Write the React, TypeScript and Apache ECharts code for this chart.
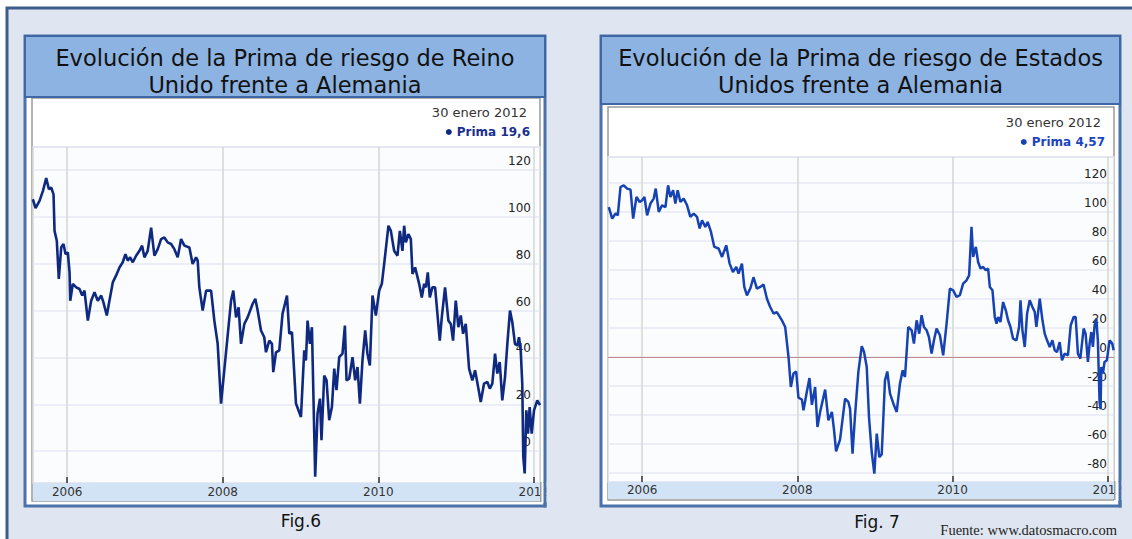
import { useEffect, useRef } from 'react';
import * as echarts from 'echarts';

// ---------- data ----------
const yearTicks = [2006, 2008, 2010, 2012];

const ukYears = [
  2005.558, 2005.593, 2005.644, 2005.687, 2005.73, 2005.764, 2005.794, 2005.824, 2005.837, 2005.866,
  2005.892, 2005.923, 2005.952, 2005.978, 2006.008, 2006.03, 2006.039, 2006.072, 2006.116, 2006.158,
  2006.193, 2006.222, 2006.265, 2006.308, 2006.351, 2006.393, 2006.437, 2006.466, 2006.509, 2006.543,
  2006.586, 2006.629, 2006.672, 2006.714, 2006.749, 2006.778, 2006.809, 2006.843, 2006.886, 2006.929,
  2006.963, 2006.993, 2007.035, 2007.079, 2007.121, 2007.164, 2007.207, 2007.249, 2007.292, 2007.336,
  2007.378, 2007.421, 2007.464, 2007.507, 2007.571, 2007.613, 2007.657, 2007.678, 2007.699, 2007.742,
  2007.786, 2007.85, 2007.892, 2007.935, 2007.978, 2008.042, 2008.107, 2008.136, 2008.171, 2008.204,
  2008.235, 2008.278, 2008.32, 2008.384, 2008.419, 2008.449, 2008.492, 2008.534, 2008.556, 2008.599,
  2008.633, 2008.65, 2008.685, 2008.727, 2008.769, 2008.826, 2008.856, 2008.89, 2008.942, 2009.006,
  2009.048, 2009.07, 2009.091, 2009.121, 2009.147, 2009.189, 2009.219, 2009.25, 2009.27, 2009.305,
  2009.335, 2009.369, 2009.404, 2009.434, 2009.463, 2009.498, 2009.54, 2009.571, 2009.592, 2009.626,
  2009.669, 2009.703, 2009.733, 2009.764, 2009.797, 2009.832, 2009.861, 2009.892, 2009.926, 2009.969,
  2010.012, 2010.046, 2010.076, 2010.131, 2010.162, 2010.204, 2010.247, 2010.278, 2010.311, 2010.333,
  2010.355, 2010.388, 2010.419, 2010.44, 2010.474, 2010.526, 2010.56, 2010.59, 2010.612, 2010.637,
  2010.663, 2010.696, 2010.731, 2010.791, 2010.817, 2010.859, 2010.902, 2010.933, 2010.962, 2010.997,
  2011.03, 2011.061, 2011.091, 2011.125, 2011.168, 2011.21, 2011.245, 2011.296, 2011.318, 2011.36,
  2011.403, 2011.434, 2011.467, 2011.502, 2011.531, 2011.562, 2011.595, 2011.63, 2011.66, 2011.694,
  2011.724, 2011.758, 2011.788, 2011.81, 2011.832, 2011.852, 2011.865, 2011.883, 2011.904, 2011.926,
  2011.947, 2011.973, 2012.003, 2012.045, 2012.08,
];
const ukValues = [
  107.5, 103.7, 106.8, 111, 116.5, 111.8, 112.5, 109.6, 94, 89.8,
  73.5, 87, 88.4, 84.1, 84.8, 76.3, 64.2, 71.4, 69.9, 69.2,
  66.4, 68.5, 55.7, 64.2, 67.8, 64.2, 66.4, 63.5, 57.9, 64.2,
  72, 75, 78.4, 80.6, 84.1, 81.3, 82.7, 80.6, 83.4, 85.5,
  87.7, 82.7, 85.5, 95.4, 83.4, 86.2, 90.5, 91.2, 89.1, 88.4,
  86.2, 82.7, 90.5, 87.7, 86.9, 79.9, 82.7, 81.3, 69.9, 60,
  68.5, 68.5, 55.7, 45.8, 20.3, 42, 64.2, 68.5, 57.1, 61.4,
  45.8, 54.3, 57.1, 62.8, 65, 60, 51.5, 48.6, 42.2, 47.2,
  45.8, 33.7, 42.2, 43, 58.6, 66.4, 50.1, 50.8, 20.3, 14.6,
  43, 38.7, 55.7, 45.8, 52.9, -10.9, 16, 22.4, 4.7, 32.3,
  30.2, 13.2, 18.8, 35.2, 26, 40.1, 41.6, 53.6, 30.2, 30.9,
  40.1, 30.2, 35.9, 20.3, 38.7, 51.5, 41.6, 36.6, 66.4, 57.9,
  68.5, 71.4, 79.9, 96.2, 94, 85.5, 83.4, 94, 85.5, 96.2,
  89.1, 92.6, 90.5, 75.6, 78.4, 71.4, 65.6, 71.4, 69.9, 76.3,
  65.6, 69.9, 69.9, 47.2, 57.1, 69.9, 55.7, 54.3, 47.2, 64.2,
  52.9, 57.9, 50.1, 54.3, 35.2, 30.2, 34.5, 25.2, 21, 28.8,
  29.5, 26.7, 28.8, 41.6, 33.1, 38, 21.7, 31.6, 45.8, 60,
  55, 45.8, 45.1, 48.6, 43, 28.8, -2.4, -9.5, 17.4, 7.5,
  18.8, 7.5, 17.4, 21.7, 19.6,
];

const usYears = [
  2005.57, 2005.614, 2005.657, 2005.686, 2005.721, 2005.763, 2005.807, 2005.85, 2005.884, 2005.927,
  2005.969, 2006.0, 2006.03, 2006.064, 2006.107, 2006.149, 2006.175, 2006.214, 2006.257, 2006.3,
  2006.334, 2006.364, 2006.399, 2006.428, 2006.458, 2006.493, 2006.535, 2006.579, 2006.621, 2006.664,
  2006.707, 2006.741, 2006.772, 2006.814, 2006.844, 2006.887, 2006.93, 2006.985, 2007.029, 2007.084,
  2007.127, 2007.17, 2007.213, 2007.242, 2007.286, 2007.316, 2007.35, 2007.393, 2007.435, 2007.479,
  2007.522, 2007.564, 2007.608, 2007.65, 2007.693, 2007.736, 2007.801, 2007.843, 2007.886, 2007.916,
  2007.95, 2007.985, 2008.014, 2008.058, 2008.079, 2008.122, 2008.156, 2008.187, 2008.229, 2008.259,
  2008.293, 2008.358, 2008.4, 2008.445, 2008.473, 2008.499, 2008.55, 2008.615, 2008.657, 2008.679,
  2008.711, 2008.743, 2008.786, 2008.83, 2008.859, 2008.894, 2008.923, 2008.958, 2008.992, 2009.023,
  2009.056, 2009.087, 2009.129, 2009.159, 2009.194, 2009.245, 2009.28, 2009.322, 2009.357, 2009.387,
  2009.429, 2009.473, 2009.502, 2009.537, 2009.57, 2009.601, 2009.631, 2009.666, 2009.695, 2009.73,
  2009.76, 2009.794, 2009.837, 2009.879, 2009.923, 2009.965, 2010.008, 2010.051, 2010.094, 2010.136,
  2010.18, 2010.213, 2010.244, 2010.265, 2010.3, 2010.329, 2010.36, 2010.394, 2010.428, 2010.458,
  2010.48, 2010.514, 2010.544, 2010.566, 2010.587, 2010.617, 2010.651, 2010.686, 2010.715, 2010.746,
  2010.779, 2010.823, 2010.857, 2010.875, 2010.9, 2010.93, 2010.96, 2010.994, 2011.029, 2011.059,
  2011.08, 2011.123, 2011.158, 2011.187, 2011.217, 2011.252, 2011.286, 2011.316, 2011.345, 2011.38,
  2011.41, 2011.444, 2011.487, 2011.522, 2011.56, 2011.586, 2011.615, 2011.646, 2011.689, 2011.714,
  2011.744, 2011.766, 2011.788, 2011.808, 2011.83, 2011.852, 2011.872, 2011.894, 2011.907, 2011.916,
  2011.937, 2011.958, 2011.988, 2012.023, 2012.058, 2012.075,
];
const usValues = [
  103.4, 95.4, 98.9, 97.7, 117.2, 118.4, 116.1, 115.4, 95.4, 110.3,
  106.9, 108.1, 110.3, 97.7, 105.8, 109.2, 116.1, 100, 104.6, 103.4,
  118.4, 110.3, 115, 105.8, 115, 106.9, 109.2, 104.6, 96.6, 98.9,
  96.6, 88.6, 94.3, 89.7, 93.1, 86.2, 75.9, 74.8, 69, 77,
  64.4, 58.6, 62.1, 57.5, 64.4, 48.3, 42.5, 47.2, 55, 47.2,
  48.3, 50, 40.2, 34.5, 30, 31, 25.3, 20.7, 0, -20.7,
  -11.4, -10, -28, -29.3, -36.8, -24, -14.5, -33, -20.7, -48.3,
  -38, -22.5, -43.7, -37.9, -50.6, -65, -57, -28.7, -31, -35.6,
  -66.6, -40.2, -10.3, 7.5, 3.5, -6.9, -41.4, -65.5, -80.4, -52.8,
  -69, -67.2, -16.1, -10, -25.3, -33.3, -37.9, -18.3, -9.2, -13.8,
  20.7, 18.4, 9.2, 25.3, 16.1, 28.8, 20.7, 18.4, 13.8, 2.3,
  11.5, 19.6, 15, 1.2, 23, 47.2, 46, 41.4, 42.6, 50.6,
  52.9, 56.3, 89.7, 69, 75.9, 65.5, 61, 62.1, 59.8, 61,
  48.3, 46, 27.6, 23, 27.6, 24.1, 37.9, 32.2, 25.3, 20.7,
  12.7, 11.5, 20.7, 39.1, 18.4, 6.9, 29.9, 39.1, 34.5, 31,
  20.7, 40.3, 25.3, 16.1, 11.5, 6.9, 11.5, 4.6, 3.4, 10.3,
  -2.3, 2.3, 1.2, 21.8, 27.6, 27.6, 2.3, -1.1, 19.6, 16.1,
  -3.4, 9.2, 17.2, 6.9, 21.8, 26.5, 11.5, -31, -36, -6.9,
  -11.4, -3.4, -2.3, 11.5, 9.2, 4.57,
];

const chartTitles = [
  'Evolución de la Prima de riesgo de Reino\nUnido frente a Alemania',
  'Evolución de la Prima de riesgo de Estados\nUnidos frente a Alemania',
];
const lastDate = '30 enero 2012';
const seriesName = 'Prima';
const captions = ['Fig.6', 'Fig. 7'];
const sourceText = 'Fuente: www.datosmacro.com';

// ---------- styles ----------
const FONT = 'DejaVu Sans';
const pageBg = '#dfe6f1';
const panelBorder = '#4a72a8';
const titleFill = '#8db3e2';
const titleStroke = '#3e67a3';
const frameStroke = '#9b9b9b';
const bandFill = '#d2e3f6';
const ukColor = '#0f2980';
const usColor = '#1642b4';

const fmtNum = (v: number) => String(v).replace('.', ',');

function panelGraphics(p: {
  px: number; pw: number; py: number; ph: number; titleH: number;
  fx: number; fy: number; fw: number; fh: number;
  gx: number; gy: number; gw: number; gh: number; bandH: number;
  title: string; dateX: number; dateY: number;
}) {
  const els: any[] = [
    { type: 'rect', z: 0, silent: true, shape: { x: p.px, y: p.py, width: p.pw, height: p.ph }, style: { fill: '#ffffff', stroke: panelBorder, lineWidth: 3 } },
    { type: 'rect', z: 0, silent: true, shape: { x: p.fx, y: p.fy, width: p.fw, height: p.fh }, style: { fill: '#ffffff', stroke: frameStroke, lineWidth: 1.5 } },
    { type: 'rect', z: 0, silent: true, shape: { x: p.gx, y: p.gy, width: p.gw, height: p.gh }, style: { fill: '#fbfcfe', stroke: '#d9d9d9', lineWidth: 1.5 } },
    { type: 'rect', z: 0, silent: true, shape: { x: p.px, y: p.py, width: p.pw, height: p.titleH }, style: { fill: titleFill, stroke: titleStroke, lineWidth: 2 } },
    {
      type: 'text', z: 1, silent: true, x: p.px + p.pw / 2, y: p.py + 35.5,
      style: { text: p.title, fontSize: 22.5, fontFamily: FONT, fill: '#111111', lineHeight: 27, align: 'center', verticalAlign: 'middle', textAlign: 'center', textVerticalAlign: 'middle' },
    },
    {
      type: 'text', z: 1, silent: true, x: p.dateX, y: p.dateY,
      style: { text: lastDate, fontSize: 13, fontFamily: FONT, fill: '#333333', align: 'right', verticalAlign: 'middle', textAlign: 'right', textVerticalAlign: 'middle' },
    },
    { type: 'rect', z: 2, silent: true, shape: { x: p.gx, y: p.gy + p.gh, width: p.gw, height: p.bandH }, style: { fill: bandFill } },
    // right-side clipping of the last year label
    { type: 'rect', z: 10, silent: true, shape: { x: p.gx + p.gw, y: p.gy + p.gh, width: p.px + p.pw - (p.gx + p.gw), height: p.bandH + 2 }, style: { fill: '#ffffff' } },
    { type: 'rect', z: 10, silent: true, shape: { x: p.gx + p.gw, y: p.gy + p.gh - 1, width: 1.5, height: p.bandH + 2 }, style: { fill: frameStroke } },
    { type: 'rect', z: 10, silent: true, shape: { x: p.px + p.pw - 1.5, y: p.gy + p.gh - 1, width: 3, height: p.py + p.ph - (p.gy + p.gh) + 2.5 }, style: { fill: panelBorder } },
    { type: 'rect', z: 10, silent: true, shape: { x: p.px + p.pw + 1.5, y: p.gy + p.gh - 1, width: 14, height: p.bandH + 2 }, style: { fill: pageBg } },
  ];
  return els;
}

export default function App() {
  const ref = useRef<HTMLDivElement>(null);

  useEffect(() => {
    if (!ref.current) return;
    const chart = echarts.init(ref.current, undefined, { renderer: 'svg' });

    const ukData = ukYears.map((t, i) => [t, ukValues[i]]);
    const usData = usYears.map((t, i) => [t, usValues[i]]);

    const xMin = 2005.56;
    const xMax = 2012.08;

    const xAxisBase = (gridIndex: number, margin: number) => ({
      type: 'value', gridIndex, min: xMin, max: xMax, z: 3, position: 'bottom',
      axisLine: { show: false, onZero: false },
      axisTick: { show: true, inside: true, length: 6, customValues: yearTicks, lineStyle: { color: '#333', width: 1.5 } },
      axisLabel: { customValues: yearTicks, formatter: (v: number) => String(v), margin, color: '#333', fontSize: 12, fontFamily: FONT },
      splitLine: { show: false },
    });

    const yAxisBase = (gridIndex: number, min: number, max: number, splitNumber: number, margin: number) => ({
      type: 'value', gridIndex, position: 'right', min, max, splitNumber, z: 1,
      axisLine: { show: false, onZero: false }, axisTick: { show: false },
      axisLabel: {
        inside: true, margin, color: '#222', fontSize: 12, fontFamily: FONT,
        verticalAlign: 'bottom', padding: [0, 0, 3, 0],
        formatter: (v: number) => (Math.abs(v % 20) < 1e-6 ? String(Math.round(v)) : ''),
      },
      splitLine: { show: true, lineStyle: { color: '#e6e8f4', width: 1.5 } },
    });

    const yearLines = yearTicks.map((y) => ({ xAxis: y }));

    const option: any = {
      animation: false,
      backgroundColor: '#ffffff',
      grid: [
        { left: 33, top: 147, width: 507, height: 336, show: false, outerBoundsMode: 'none' },
        { left: 608, top: 157, width: 506, height: 325, show: false, outerBoundsMode: 'none' },
      ],
      xAxis: [xAxisBase(0, 3), xAxisBase(1, 2)],
      yAxis: [yAxisBase(0, -13.6, 129.8, 7, 9), yAxisBase(1, -86.2, 137.9, 11, 7)],
      legend: [
        {
          data: [{ name: seriesName }], right: 602, top: 126, padding: 0,
          icon: 'circle', itemWidth: 6, itemHeight: 6,
          formatter: (n: string) => `${n} ${fmtNum(ukValues[ukValues.length - 1])}`,
          textStyle: { color: '#1c2f8e', fontWeight: 'bold', fontSize: 12, fontFamily: FONT },
          selectedMode: false,
        },
        {
          data: [{ name: seriesName, itemStyle: { color: usColor } }], right: 27, top: 136, padding: 0,
          icon: 'circle', itemWidth: 6, itemHeight: 6,
          formatter: (n: string) => `${n} ${fmtNum(usValues[usValues.length - 1])}`,
          textStyle: { color: '#1d45bd', fontWeight: 'bold', fontSize: 12, fontFamily: FONT },
          selectedMode: false,
        },
      ],
      series: [
        {
          type: 'line', name: seriesName, xAxisIndex: 0, yAxisIndex: 0, data: ukData, z: 5,
          showSymbol: false, symbol: 'none', color: ukColor,
          lineStyle: { color: ukColor, width: 2.6 },
          markLine: {
            silent: true, symbol: 'none', z: 2, label: { show: false },
            lineStyle: { color: '#d3d9d3', width: 1.5, type: 'solid' },
            data: yearLines,
          },
        },
        {
          type: 'line', name: 'cero', xAxisIndex: 1, yAxisIndex: 1, data: [], z: 3,
          showSymbol: false, symbol: 'none',
          markLine: {
            silent: true, symbol: 'none', z: 2.5, label: { show: false },
            lineStyle: { color: '#c28a8a', width: 1.2, type: 'solid' },
            data: [{ yAxis: 0 }],
          },
        },
        {
          type: 'line', name: seriesName, xAxisIndex: 1, yAxisIndex: 1, data: usData, z: 5,
          showSymbol: false, symbol: 'none', color: usColor,
          lineStyle: { color: usColor, width: 2.5 },
          markLine: {
            silent: true, symbol: 'none', z: 2, label: { show: false },
            lineStyle: { color: '#d3d9d3', width: 1.5, type: 'solid' },
            data: yearLines,
          },
        },
      ],
      graphic: [
        { type: 'rect', z: 0, silent: true, shape: { x: 7, y: 8, width: 1140, height: 560 }, style: { fill: pageBg, stroke: '#3c5d8d', lineWidth: 3 } },
        ...panelGraphics({
          px: 25, pw: 520, py: 36, ph: 470, titleH: 61,
          fx: 32, fy: 98, fw: 508, fh: 403,
          gx: 33, gy: 147, gw: 507, gh: 336, bandH: 18,
          title: chartTitles[0], dateX: 527, dateY: 112,
        }),
        ...panelGraphics({
          px: 601, pw: 519, py: 36, ph: 470, titleH: 68,
          fx: 608, fy: 107, fw: 506, fh: 393,
          gx: 608, gy: 157, gw: 506, gh: 325, bandH: 17,
          title: chartTitles[1], dateX: 1101, dateY: 122.5,
        }),
        {
          type: 'text', z: 1, silent: true, x: 301, y: 521,
          style: { text: captions[0], fontSize: 17, fontFamily: FONT, fill: '#111', align: 'center', verticalAlign: 'middle', textAlign: 'center', textVerticalAlign: 'middle' },
        },
        {
          type: 'text', z: 1, silent: true, x: 877, y: 522,
          style: { text: captions[1], fontSize: 17, fontFamily: FONT, fill: '#111', align: 'center', verticalAlign: 'middle', textAlign: 'center', textVerticalAlign: 'middle' },
        },
        {
          type: 'text', z: 1, silent: true, x: 1117, y: 530,
          style: { text: sourceText, fontSize: 14.5, fontFamily: 'Liberation Serif', fill: '#222', align: 'right', verticalAlign: 'middle', textAlign: 'right', textVerticalAlign: 'middle' },
        },
      ],
    };

    chart.setOption(option);
    return () => chart.dispose();
  }, []);

  return <div ref={ref} style={{ position: 'fixed', left: 0, top: 0, width: 1132, height: 539 }} />;
}
